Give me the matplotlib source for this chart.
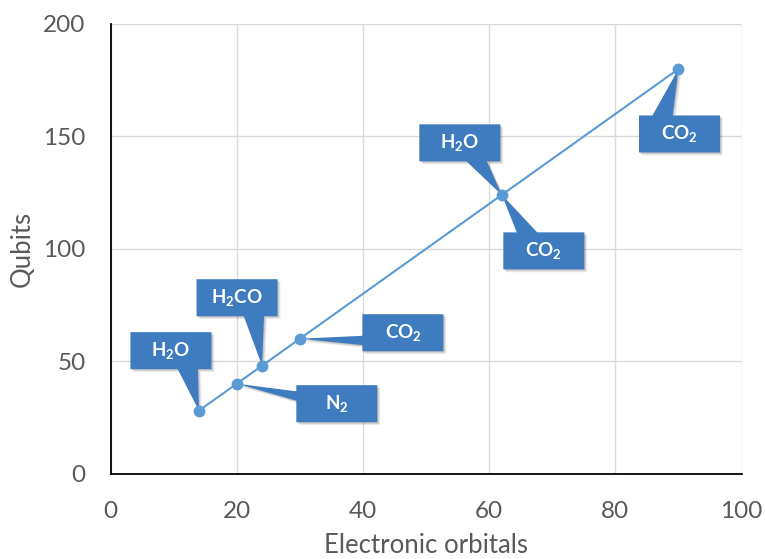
import matplotlib
matplotlib.use("Agg")
import matplotlib.pyplot as plt
from matplotlib.patches import Polygon
from matplotlib.transforms import ScaledTranslation

# Data: (electronic orbitals, qubits) and the molecule callouts attached to each point
orbitals = [14, 20, 24, 30, 62, 90]
qubits = [28, 40, 48, 60, 124, 180]

# Each callout: index of the point, label, box-centre offset from the point (pixels, x right / y up)
callout_point = [0, 2, 1, 3, 4, 4, 5]
callout_text = [r"H$_2$O", r"H$_2$CO", r"N$_2$", r"CO$_2$", r"H$_2$O", r"CO$_2$", r"CO$_2$"]
callout_dx = [-28, -25, 100, 103, -42, 42, 1]
callout_dy = [60, 68, -20, 6, 52, -56, -65]

x_ticks = [0, 20, 40, 60, 80, 100]
y_ticks = [0, 50, 100, 150, 200]

LINE_BLUE = "#5B9BD5"
BOX_BLUE = "#3E7BBF"
GREY_TEXT = "#595959"
GRID = "#D9D9D9"

plt.rcParams["font.family"] = ["Lato", "DejaVu Sans"]
plt.rcParams["mathtext.fontset"] = "custom"
plt.rcParams["mathtext.rm"] = "Lato:bold"
plt.rcParams["mathtext.it"] = "Lato:bold"
plt.rcParams["mathtext.bf"] = "Lato:bold"

fig = plt.figure(figsize=(7.65, 5.59), dpi=100)
W, H = 765, 559
left, right, bottom, top = 110.6, 741.6, 473.6, 24.0
ax = fig.add_axes([left / W, 1 - bottom / H, (right - left) / W, (bottom - top) / H])

ax.set_xlim(0, 100)
ax.set_ylim(0, 200)
ax.set_xticks(x_ticks)
ax.set_yticks(y_ticks)
ax.grid(True, color=GRID, linewidth=1.0)
ax.set_axisbelow(True)
for side in ("top", "right"):
    ax.spines[side].set_visible(False)
for side in ("left", "bottom"):
    ax.spines[side].set_color("black")
    ax.spines[side].set_linewidth(1.3)
ax.tick_params(length=0, labelsize=17.5, labelcolor=GREY_TEXT)
ax.tick_params(axis="x", pad=20)
ax.tick_params(axis="y", pad=18)
ax.set_xlabel("Electronic orbitals", fontsize=18.5, color=GREY_TEXT, labelpad=8)
ax.set_ylabel("Qubits", fontsize=18.5, color=GREY_TEXT, labelpad=6)

ax.plot(orbitals, qubits, "-o", color=LINE_BLUE, linewidth=1.5,
        markersize=7.5, zorder=5, clip_on=False)


def callout_vertices(dx, dy, w=81.0, h=37.0):
    """Rectangle centred at (dx, dy) with a tapered tail ending at (0, 0)."""
    L, R = dx - w / 2, dx + w / 2
    B, T = dy - h / 2, dy + h / 2
    tx, ty = -dx, -dy  # tip relative to box centre (y up)
    f1, f2 = ((7, 10) if tx > 0 else (2, 5))
    g1, g2 = ((7, 10) if ty < 0 else (2, 5))
    f1, f2, g1, g2 = f1 / 12, f2 / 12, g1 / 12, g2 / 12
    vertical_edge = abs(ty) - abs(tx) * h / w > 0
    bl, br, tr, tl = (L, B), (R, B), (R, T), (L, T)
    tip = (0.0, 0.0)
    if vertical_edge and ty < 0:      # bottom edge
        return [bl, (L + f1 * w, B), tip, (L + f2 * w, B), br, tr, tl]
    if vertical_edge:                 # top edge
        return [bl, br, tr, (L + f2 * w, T), tip, (L + f1 * w, T), tl]
    if tx > 0:                        # right edge
        return [bl, br, (R, T - g2 * h), tip, (R, T - g1 * h), tr, tl]
    return [bl, br, tr, tl, (L, T - g1 * h), tip, (L, T - g2 * h)]  # left edge


for idx, text, dx, dy in zip(callout_point, callout_text, callout_dx, callout_dy):
    px, py = orbitals[idx], qubits[idx]
    verts = callout_vertices(dx, dy)
    anchor = ScaledTranslation(px, py, ax.transData)
    for ox, oy, a in [(1.0, -1.0, 0.10), (2.0, -2.0, 0.10), (3.0, -3.0, 0.06)]:
        shadow = Polygon([(vx + ox, vy + oy) for vx, vy in verts], closed=True,
                         facecolor="black", edgecolor="none", alpha=a,
                         transform=anchor, zorder=3, clip_on=False)
        ax.add_patch(shadow)
    box = Polygon(verts, closed=True, facecolor=BOX_BLUE, edgecolor="none",
                  transform=anchor, zorder=4, clip_on=False)
    ax.add_patch(box)
    ax.annotate(text, xy=(px, py), xytext=(dx, dy), textcoords="offset pixels",
                ha="center", va="center", color="white", fontsize=13.5,
                fontweight="bold", zorder=6)

fig.savefig("out.png", dpi=100)
